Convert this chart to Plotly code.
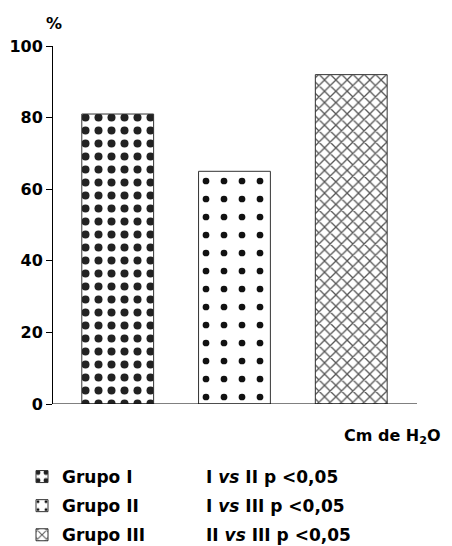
import plotly.graph_objects as go

groups = ["Grupo I", "Grupo II", "Grupo III"]
values = [81, 65, 92]
stats = ["I <i>vs</i> II p <0,05", "I <i>vs</i> III p <0,05", "II <i>vs</i> III p <0,05"]
yticks = [0, 20, 40, 60, 80, 100]

patterns = [
    dict(shape=".", fgcolor="#222", bgcolor="white", size=13, solidity=0.3, fillmode="replace"),
    dict(shape=".", fgcolor="#111", bgcolor="white", size=18, solidity=0.11, fillmode="replace"),
    dict(shape="x", fgcolor="#555", bgcolor="white", size=8, solidity=0.3, fillmode="replace"),
]

FONT = "DejaVu Sans"
L, R, T, B = 53, 35, 46, 142
W = 452 - L - R
H = 546 - T - B

def px_x(p):
    return (p - L) / W

def px_y(p):
    return (546 - B - p) / H

fig = go.Figure()
for i, (g, v) in enumerate(zip(groups, values)):
    fig.add_trace(go.Bar(
        x=[i], y=[v], name=g, width=0.615, legendgroup=g,
        marker=dict(color="white", line=dict(color="#333", width=1), pattern=patterns[i]),
    ))

fig.update_layout(
    width=452, height=546,
    margin=dict(l=L, r=R, t=T, b=B, autoexpand=False),
    plot_bgcolor="white", paper_bgcolor="white",
    font=dict(family=FONT, size=15, color="black"),
    showlegend=True,
    legend=dict(x=px_x(22), y=px_y(459), xanchor="left", yanchor="top",
                font=dict(size=17, family=FONT, weight="bold"),
                tracegroupgap=4, bgcolor="rgba(0,0,0,0)"),
    xaxis=dict(range=[-0.554, 2.563], showticklabels=False, ticks="", showgrid=False,
               zeroline=False, showline=False),
    yaxis=dict(range=[0, 100], tickvals=yticks, ticks="outside", ticklen=6, tickwidth=1,
               tickcolor="black", showline=True, linecolor="black", linewidth=1,
               showgrid=False, zeroline=False,
               tickfont=dict(size=16, family=FONT, weight="bold")),
    shapes=[dict(type="line", xref="paper", yref="y", x0=0, x1=1, y0=0, y1=0,
                 line=dict(color="black", width=1))],
)

fig.add_annotation(text="%", xref="paper", yref="paper", x=px_x(54), y=px_y(24),
                   xanchor="center", yanchor="middle", showarrow=False,
                   font=dict(size=16, family=FONT, weight="bold"))
fig.add_annotation(text="Cm de H<sub>2</sub>O", xref="paper", yref="paper", x=px_x(342),
                   y=px_y(424), xanchor="left", yanchor="top", showarrow=False,
                   font=dict(size=16, family=FONT, weight="bold"))
for k, s in enumerate(stats):
    fig.add_annotation(text=s, xref="paper", yref="paper", x=px_x(204),
                       y=px_y(477 + 29 * k), xanchor="left", yanchor="middle",
                       showarrow=False, font=dict(size=17, family=FONT, weight="bold"))

fig.write_html("out.html", config={"displayModeBar": False},
               post_script="document.body.style.margin='0px';")
